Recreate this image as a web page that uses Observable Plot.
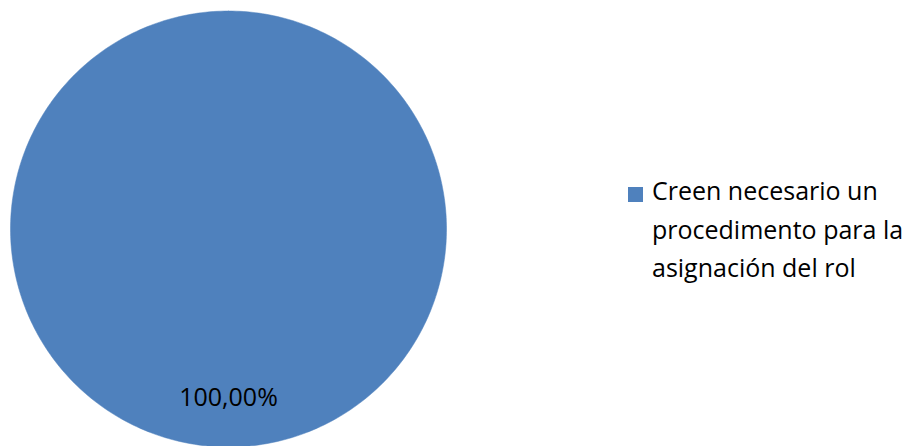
<!DOCTYPE html>
<html>
<head>
<meta charset="utf-8">
<script src="https://cdn.jsdelivr.net/npm/d3@7"></script>
<script src="https://cdn.jsdelivr.net/npm/@observablehq/plot@0.6"></script>
<style>
  html, body { margin: 0; padding: 0; background: #fff; }
  #wrap { position: relative; width: 920px; height: 446px; overflow: hidden; }
  #chart { position: absolute; left: 0; top: 0; }
  #legend { position: absolute; left: 628px; top: 171px; font-family: "Open Sans", sans-serif; font-size: 25px; line-height: 38.5px; color: #000; }
  #legend .item { display: flex; align-items: flex-start; }
  #legend .sw { width: 15px; height: 15px; margin-top: 16px; margin-right: 9px; flex: none; }
</style>
</head>
<body>
<div id="wrap"><div id="chart"></div><div id="legend"></div></div>
<script>
const categories = ["Creen necesario un procedimento para la asignación del rol"];
const legendLines = [["Creen necesario un", "procedimento para la", "asignación del rol"]];
const values = [100];
const labels = ["100,00%"];
const colors = ["#4F81BD"];

const pie = d3.pie().sort(null)(values);
const polys = [];
pie.forEach((p, i) => {
  const n = 360;
  for (let k = 0; k <= n; k++) {
    const a = p.startAngle + (p.endAngle - p.startAngle) * k / n;
    polys.push({cat: categories[i], x: Math.sin(a), y: Math.cos(a), k});
  }
  if (p.endAngle - p.startAngle < 2 * Math.PI - 1e-9) polys.push({cat: categories[i], x: 0, y: 0, k: n + 1});
});
const labelData = pie.map((p, i) => {
  const m = (p.startAngle + p.endAngle) / 2;
  return {x: 0.775 * Math.sin(m), y: 0.775 * Math.cos(m), text: labels[i]};
});

const R = 218, cx = 228, cy = 228.5, W = 456, H = 446;
const chart = Plot.plot({
  width: W, height: H,
  margin: 0,
  x: {domain: [-cx / R, (W - cx) / R], range: [0, W], axis: null},
  y: {domain: [-(H - cy) / R, cy / R], range: [H, 0], axis: null},
  color: {domain: categories, range: colors},
  marks: [
    Plot.line(polys, {x: "x", y: "y", z: "cat", fill: "cat", stroke: "cat", strokeWidth: 0.5, curve: "linear"}),
    Plot.text(labelData, {x: "x", y: "y", text: "text", fontSize: 25, fill: "#000", fontFamily: "Open Sans, sans-serif"})
  ]
});
document.getElementById("chart").appendChild(chart);

const lg = document.getElementById("legend");
categories.forEach((c, i) => {
  const item = document.createElement("div");
  item.className = "item";
  const sw = document.createElement("div");
  sw.className = "sw";
  sw.style.background = colors[i];
  const t = document.createElement("div");
  t.innerHTML = legendLines[i].join("<br>");
  item.appendChild(sw); item.appendChild(t);
  lg.appendChild(item);
});
</script>
</body>
</html>
